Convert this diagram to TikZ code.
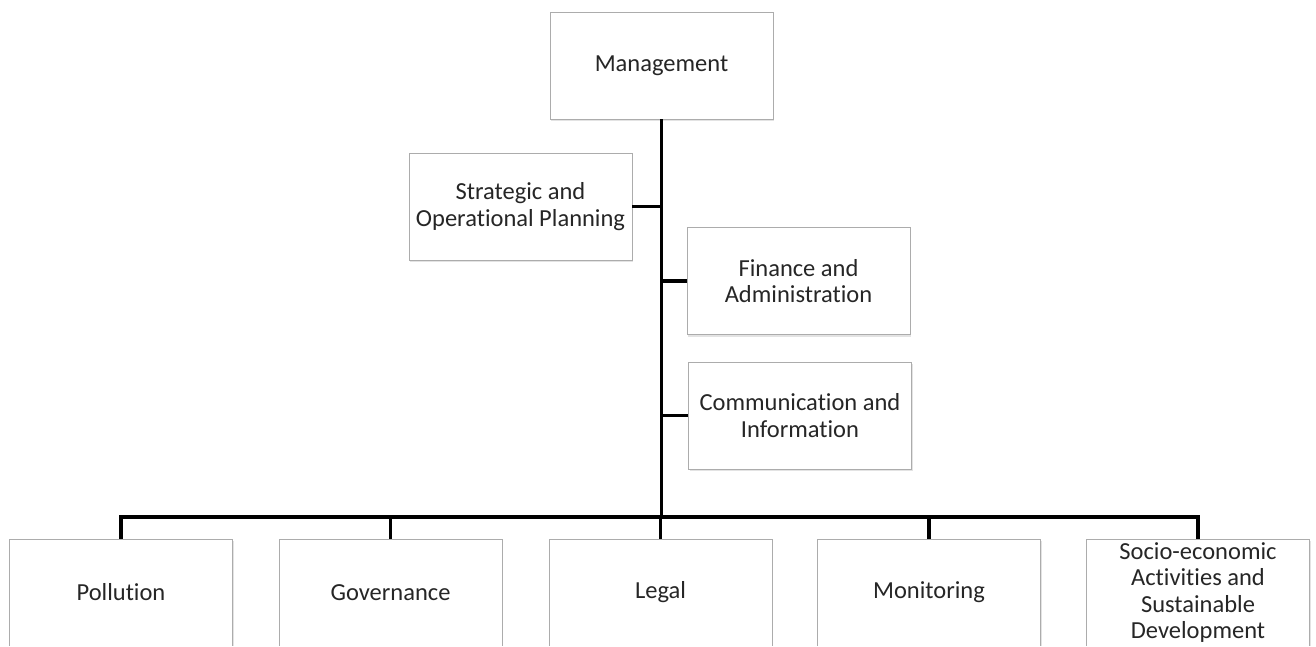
\documentclass[tikz,border=0pt]{standalone}
\usepackage{fontspec}
\setmainfont[Ligatures=NoCommon]{Carlito}
\usetikzlibrary{shadows}

\begin{document}
\begin{tikzpicture}[x=1pt,y=-1pt,
unit/.style={draw=gray!65,line width=0.9pt,fill=white,minimum width=223pt,minimum height=107pt,inner sep=0pt,align=center,text=black!85,font=\fontsize{24.5}{26.5}\selectfont,drop shadow={shadow xshift=1.2pt,shadow yshift=-2pt,opacity=0.22}},
link/.style={black,line width=3.5pt}]
\useasboundingbox (0,0) rectangle (1316,646);
\clip (-10,-10) rectangle (1330,645);
\node [unit] (mgmt) at (661.5,65.5) {Management};
\node [unit] (strat) at (520.5,206.5) {Strategic and\\Operational Planning};
\node [unit] (fin) at (798.5,281) {Finance and\\Administration};
\node [unit] (comm) at (800,415.5) {Communication and\\Information};
\node [unit] (poll) at (121,592.5) {Pollution};
\node [unit] (gov) at (390.5,592.5) {Governance};
\node [unit] (legal) at (660.5,592.5) {Legal};
\node [unit] (mon) at (929,592.5) {Monitoring};
\node [unit] (socio) at (1198,592.5) {Socio-economic\\Activities and\\Sustainable\\Development};
\coordinate (bus) at (661,517);
\draw [link] (mgmt.south) -- (mgmt.south |- bus);
\draw [link] (strat.east) -- (strat.east -| mgmt.south);
\draw [link] (fin.west) -- (fin.west -| mgmt.south);
\draw [link] (comm.west) -- (comm.west -| mgmt.south);
\draw [link,line cap=rect] (poll.north |- bus) -- (socio.north |- bus);
\foreach \u in {poll,gov,legal,mon,socio}
  \draw [link] (\u.north |- bus) -- (\u.north);
\end{tikzpicture}
\end{document}
